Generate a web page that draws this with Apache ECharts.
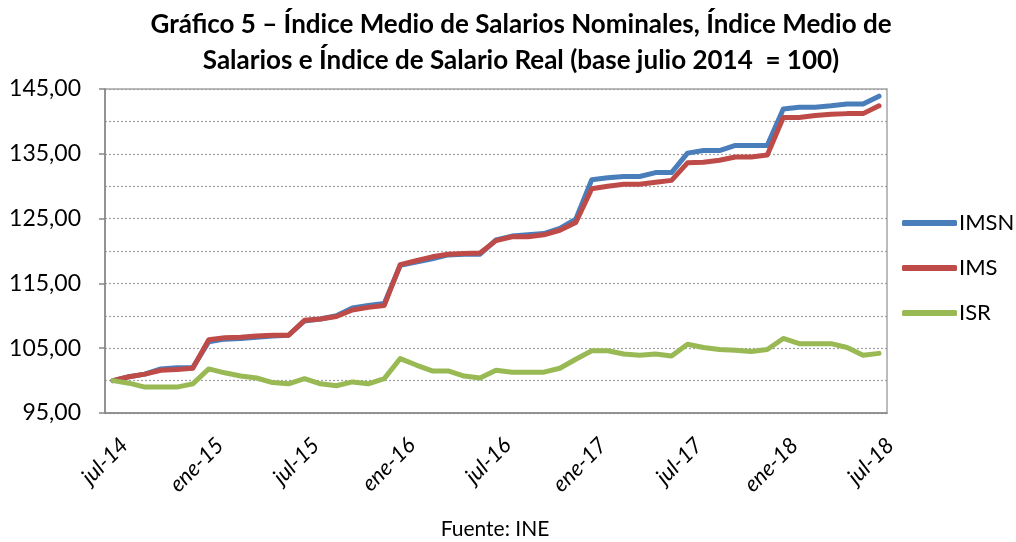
<!DOCTYPE html>
<html>
<head>
<meta charset="utf-8">
<script src="https://cdn.jsdelivr.net/npm/echarts@6/dist/echarts.min.js"></script>
<style>
html,body{margin:0;padding:0;background:#fff;}
#chart{width:1016px;height:542px;}
</style>
</head>
<body>
<div id="chart"></div>
<script>
const months = ['jul-14','ago-14','sep-14','oct-14','nov-14','dic-14',
'ene-15','feb-15','mar-15','abr-15','may-15','jun-15','jul-15','ago-15','sep-15','oct-15','nov-15','dic-15',
'ene-16','feb-16','mar-16','abr-16','may-16','jun-16','jul-16','ago-16','sep-16','oct-16','nov-16','dic-16',
'ene-17','feb-17','mar-17','abr-17','may-17','jun-17','jul-17','ago-17','sep-17','oct-17','nov-17','dic-17',
'ene-18','feb-18','mar-18','abr-18','may-18','jun-18','jul-18'];

const imsn = [100.0,100.6,101.0,101.8,102.0,102.0,
106.0,106.4,106.5,106.7,106.9,107.0,109.2,109.5,110.0,111.2,111.6,111.9,
117.8,118.3,118.8,119.4,119.5,119.5,121.7,122.3,122.5,122.7,123.5,124.9,
131.0,131.3,131.5,131.5,132.1,132.1,135.1,135.5,135.5,136.3,136.3,136.3,
141.9,142.2,142.2,142.4,142.7,142.7,143.9];

const ims = [100.0,100.6,101.0,101.6,101.7,101.9,
106.3,106.6,106.7,106.9,107.0,107.0,109.3,109.5,109.9,110.9,111.3,111.6,
117.9,118.5,119.1,119.5,119.6,119.7,121.6,122.2,122.2,122.5,123.2,124.4,
129.6,130.0,130.3,130.3,130.6,130.9,133.6,133.7,134.0,134.5,134.5,134.8,
140.6,140.6,140.9,141.1,141.2,141.2,142.4];

const isr = [100.0,99.6,99.0,99.0,99.0,99.5,
101.8,101.2,100.7,100.4,99.7,99.5,100.3,99.5,99.2,99.8,99.5,100.3,
103.4,102.4,101.5,101.5,100.7,100.4,101.6,101.3,101.3,101.3,101.9,103.3,
104.6,104.6,104.1,103.9,104.1,103.8,105.6,105.1,104.8,104.7,104.5,104.8,
106.5,105.7,105.7,105.7,105.1,103.9,104.2];

const yMin = 95, yMax = 145, yStep = 10;

const FONT = 'Lato';
const chart = echarts.init(document.getElementById('chart'));
function ser(name, data, color){
  return {name, type:'line', data, showSymbol:false, symbol:'none',
    lineStyle:{color, width:5, cap:'round', join:'round'}, itemStyle:{color},
    z: 2};
}
chart.setOption({
  animation:false,
  backgroundColor:'#fff',
  title:[{
    text:'Gráfico 5 – Índice Medio de Salarios Nominales, Índice Medio de\nSalarios e Índice de Salario Real (base julio 2014  = 100)',
    left:516, top:2, textAlign:'center',
    textStyle:{fontFamily:FONT, fontWeight:'bold', fontSize:26, lineHeight:36, color:'#000'}
  },{
    text:'Fuente: INE', left:490, top:514, textAlign:'center',
    textStyle:{fontFamily:FONT, fontWeight:'normal', fontSize:21, color:'#000'}
  }],
  legend:{
    orient:'vertical', left:897, top:207,
    itemWidth:55, itemHeight:6, itemGap:23, icon:'roundRect',
    textStyle:{fontFamily:FONT, fontSize:22, color:'#000', padding:[0,0,0,-3]},
    data:['IMSN','IMS','ISR']
  },
  grid:{left:105, right:129, top:89, bottom:129, show:true, borderColor:'#a6a6a6', borderWidth:1.5, containLabel:false},
  xAxis:{
    type:'category', data:months, boundaryGap:true,
    axisLine:{lineStyle:{color:'#868686', width:1.5}},
    axisTick:{interval:5, length:6, lineStyle:{color:'#868686', width:1.5}},
    axisLabel:{interval:5, rotate:45, margin:40, padding:[0,-16,0,0], fontFamily:FONT, fontStyle:'italic', fontSize:22, color:'#000'},
    splitLine:{show:false}
  },
  yAxis:{
    type:'value', min:yMin, max:yMax, interval:yStep,
    axisLine:{show:true, lineStyle:{color:'#868686', width:1.5}},
    axisTick:{show:true, length:6, lineStyle:{color:'#868686', width:1.5}},
    axisLabel:{fontFamily:FONT, fontSize:23, color:'#000', margin:24,
      formatter:v=>v.toFixed(2).replace('.',',')},
    splitLine:{show:true, lineStyle:{color:'#a0a0a0', type:[2,2], width:1.2}},
    minorTick:{show:false, splitNumber:2},
    minorSplitLine:{show:true, lineStyle:{color:'#a0a0a0', type:[2,2], width:1.2}}
  },
  series:[ser('IMSN', imsn, '#4A7EBB'), ser('IMS', ims, '#BE4B48'), ser('ISR', isr, '#98B954')]
});
</script>
</body>
</html>
